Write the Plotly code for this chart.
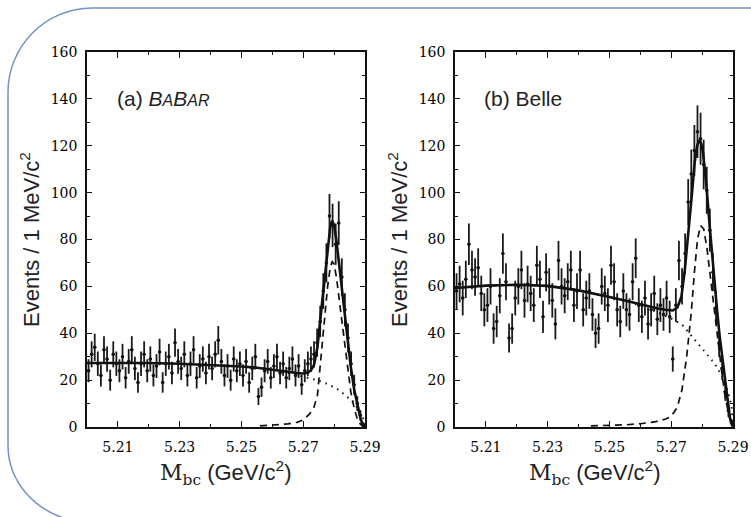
import numpy as np
import plotly.graph_objects as go

W, H = 751, 517

# ---------------- data ----------------
mbc_bins = [round(5.2005 + 0.001 * i, 4) for i in range(90)]

babar_counts = [24, 31, 34, 27, 22, 33, 29, 20, 31, 27,
                24, 30, 21, 28, 33, 25, 19, 27, 31, 24,
                29, 22, 26, 32, 19, 27, 30, 23, 36, 28,
                25, 31, 22, 27, 33, 21, 26, 29, 23, 30,
                25, 31, 37, 28, 22, 26, 20, 29, 24, 27,
                22, 28, 19, 25, 30, 13, 17, 24, 28, 21,
                26, 30, 23, 27, 21, 25, 29, 22, 26, 18,
                24, 27, 29, 31, 36, 45, 58, 70, 90, 86,
                78, 87, 64, 50, 38, 27, 18, 10, 5, 1]

belle_counts = [58, 61, 55, 63, 78, 67, 64, 68, 57, 50,
                52, 60, 42, 45, 56, 74, 62, 38, 42, 55,
                60, 67, 54, 61, 57, 52, 69, 63, 47, 66,
                60, 54, 44, 71, 60, 56, 62, 67, 52, 58,
                67, 50, 55, 58, 48, 40, 42, 60, 57, 52,
                69, 62, 50, 45, 58, 50, 48, 62, 72, 52,
                47, 55, 44, 50, 57, 46, 52, 48, 55, 47,
                29, 52, 71, 60, 74, 96, 108, 118, 126, 123,
                112, 101, 84, 66, 51, 36, 25, 15, 7, 2]

# fit curves
babar_fit_x = [5.200, 5.210, 5.220, 5.230, 5.240, 5.250, 5.255, 5.260, 5.265, 5.268,
               5.270, 5.2715, 5.2725, 5.2735, 5.2746, 5.2757, 5.2768, 5.2779, 5.2788, 5.2794,
               5.2800, 5.2808, 5.2816, 5.2825, 5.2833, 5.2843, 5.2854, 5.2865, 5.2876, 5.2885,
               5.2892, 5.2900]
babar_fit_y = [27.3, 27.4, 27.3, 27.0, 26.5, 25.8, 25.3, 24.6, 23.6, 23.0,
               22.8, 23.2, 24.2, 26.5, 34.0, 48.0, 62.5, 77.0, 86.0, 88.0,
               86.0, 79.0, 70.0, 59.0, 48.6, 37.0, 25.7, 16.0, 8.7, 4.0,
               1.0, 0.0]

babar_bkg_x = [5.200, 5.210, 5.220, 5.230, 5.240, 5.250, 5.255, 5.260, 5.265, 5.270,
               5.275, 5.278, 5.281, 5.284, 5.286, 5.2875, 5.2885, 5.2893, 5.2897, 5.290]
babar_bkg_y = [27.3, 27.4, 27.3, 27.0, 26.5, 25.8, 25.3, 24.6, 23.2, 21.5,
               19.8, 18.3, 16.2, 13.2, 10.7, 8.2, 6.2, 4.2, 2.8, 0.0]

babar_sig_x = [5.256, 5.260, 5.265, 5.268, 5.270, 5.272, 5.2735, 5.2746,
               5.2757, 5.2768, 5.2779, 5.2788, 5.2794, 5.2800, 5.2808, 5.2816, 5.2825, 5.2833,
               5.2843, 5.2854, 5.2865, 5.2876, 5.2885, 5.2892, 5.290]
babar_sig_y = [0.5, 0.8, 1.3, 2.0, 3.0, 5.5, 8.5, 13.5,
               28.0, 44.0, 60.0, 68.5, 70.5, 69.5, 63.5, 55.0, 45.0, 36.0,
               25.5, 15.0, 8.0, 3.0, 1.2, 0.4, 0.0]

belle_fit_x = [5.200, 5.210, 5.220, 5.230, 5.240, 5.245, 5.250, 5.255, 5.260, 5.265,
               5.268, 5.2705, 5.2720, 5.2733, 5.2744, 5.2755, 5.2766, 5.2776, 5.2784, 5.2790,
               5.2797, 5.2803, 5.2814, 5.2825, 5.2833, 5.2841, 5.2849, 5.2857, 5.2866, 5.2874,
               5.2882, 5.2890, 5.2900]
belle_fit_y = [59.3, 60.3, 60.7, 60.2, 58.3, 57.0, 55.5, 54.0, 52.3, 50.8,
               50.0, 49.7, 51.0, 55.6, 67.0, 81.0, 98.0, 113.0, 120.0, 122.4,
               121.0, 117.0, 103.0, 85.0, 72.0, 60.0, 49.0, 38.5, 28.5, 20.0,
               11.0, 4.0, 0.0]

belle_bkg_x = [5.200, 5.210, 5.220, 5.230, 5.240, 5.245, 5.250, 5.255, 5.260, 5.265,
               5.270, 5.2735, 5.2755, 5.278, 5.281, 5.284, 5.2865, 5.288, 5.289, 5.2895,
               5.290]
belle_bkg_y = [59.3, 60.3, 60.7, 60.2, 58.3, 57.0, 55.5, 53.8, 51.8, 49.3,
               46.3, 43.7, 40.6, 36.5, 32.0, 27.2, 21.5, 16.5, 12.0, 8.5,
               0.0]

belle_sig_x = [5.244, 5.250, 5.255, 5.260, 5.265, 5.268, 5.270,
               5.272, 5.2735, 5.275, 5.2765, 5.2775, 5.2785, 5.2795, 5.2805, 5.2815, 5.2825,
               5.2835, 5.2845, 5.2855, 5.2865, 5.2875, 5.2885, 5.2893, 5.290]
belle_sig_y = [0.5, 0.6, 0.9, 1.4, 2.3, 3.3, 4.5,
               8.5, 16.0, 30.0, 49.0, 66.0, 80.0, 86.0, 84.5, 77.0, 66.0,
               53.0, 43.0, 33.0, 22.0, 12.5, 5.5, 1.5, 0.0]

x_tickvals = [5.21, 5.23, 5.25, 5.27, 5.29]
y_tickvals = [0, 20, 40, 60, 80, 100, 120, 140, 160]

# ---------------- figure ----------------
fig = go.Figure()

def add_panel(xa, ya, counts, fx, fy, bx, by, sx, sy):
    err = np.sqrt(np.array(counts, dtype=float))
    fig.add_trace(go.Scatter(
        x=mbc_bins, y=counts, mode="markers", xaxis=xa, yaxis=ya,
        marker=dict(color="#111", size=3.5),
        error_y=dict(type="data", array=err, thickness=1.8, width=0, color="#1a1a1a"),
        error_x=dict(type="constant", value=0.0005, thickness=1.0, width=0, color="#1a1a1a"),
        showlegend=False, hoverinfo="skip"))
    fig.add_trace(go.Scatter(x=bx, y=by, mode="lines", xaxis=xa, yaxis=ya,
                             line=dict(color="#111", width=2, dash="1.5px,5px"),
                             showlegend=False, hoverinfo="skip"))
    fig.add_trace(go.Scatter(x=sx, y=sy, mode="lines", xaxis=xa, yaxis=ya,
                             line=dict(color="#111", width=1.7, dash="7px,5px"),
                             showlegend=False, hoverinfo="skip"))
    fig.add_trace(go.Scatter(x=fx, y=fy, mode="lines", xaxis=xa, yaxis=ya,
                             line=dict(color="#111", width=2.6),
                             showlegend=False, hoverinfo="skip"))

add_panel("x", "y", babar_counts, babar_fit_x, babar_fit_y,
          babar_bkg_x, babar_bkg_y, babar_sig_x, babar_sig_y)
add_panel("x2", "y2", belle_counts, belle_fit_x, belle_fit_y,
          belle_bkg_x, belle_bkg_y, belle_sig_x, belle_sig_y)

tickfont = dict(family="'DejaVu Serif', 'Liberation Serif', serif", size=14, color="#000")

def xax(domain, anchor):
    return dict(domain=domain, anchor=anchor, range=[5.2, 5.29], automargin=False,
                tickmode="array", tickvals=x_tickvals, ticktext=[f"{v:.2f}" for v in x_tickvals],
                ticks="inside", ticklen=6, tickwidth=1.3, tickcolor="#111",
                minor=dict(tickmode="linear", tick0=5.2, dtick=0.01, ticks="inside",
                           ticklen=3, tickwidth=1.3, tickcolor="#111"),
                showline=True, linewidth=1.6, linecolor="#111", mirror="allticks",
                showgrid=False, zeroline=False, tickfont=tickfont, ticklabelstandoff=6)

def yax(domain, anchor):
    return dict(domain=domain, anchor=anchor, range=[0, 160], automargin=False,
                tickmode="array", tickvals=y_tickvals,
                ticks="inside", ticklen=5, tickwidth=1.3, tickcolor="#111",
                minor=dict(tickmode="linear", tick0=0, dtick=10, ticks="inside",
                           ticklen=3, tickwidth=1.3, tickcolor="#111"),
                showline=True, linewidth=1.6, linecolor="#111", mirror="allticks",
                showgrid=False, zeroline=False, tickfont=tickfont, ticklabelstandoff=5)

ydom = [1 - 427 / H, 1 - 52 / H]
fig.update_layout(
    width=W, height=H, margin=dict(l=0, r=0, t=0, b=0, autoexpand=False),
    paper_bgcolor="white", plot_bgcolor="white",
    xaxis=xax([87 / W, 365 / W], "y"),
    yaxis=yax(ydom, "x"),
    xaxis2=xax([455 / W, 733 / W], "y2"),
    yaxis2=yax(ydom, "x2"),
)

def P(px, py):
    return f"{px / W:.5f},{1 - py / H:.5f}"

path = ("M " + P(751, 8) + " L " + P(92, 8) + " C " + P(46, 8) + " " + P(8, 46) + " " + P(8, 92)
        + " L " + P(8, 445) + " C " + P(8, 482) + " " + P(35, 512) + " " + P(74, 521))
fig.add_shape(type="path", path=path, xref="paper", yref="paper",
              line=dict(color="#7393c4", width=1.5), layer="below")

sans = "'Liberation Sans', Arial, sans-serif"
ytitle = "Events / 1 MeV/c<sup>2</sup>"
xtitle = "<span style=\"font-family:'DejaVu Serif'\">M<sub>bc</sub></span> (GeV/c<sup>2</sup>)"
for xpx in (30, 398):
    fig.add_annotation(x=xpx / W, y=1 - 240 / H, xref="paper", yref="paper",
                       xanchor="center", yanchor="middle",
                       text=ytitle, textangle=-90, showarrow=False,
                       font=dict(family=sans, size=22, color="#222"))
for xpx in (225, 594):
    fig.add_annotation(x=xpx / W, y=1 - 473 / H, xref="paper", yref="paper",
                       xanchor="center", yanchor="middle",
                       text=xtitle, showarrow=False,
                       font=dict(family=sans, size=22, color="#222"))

fig.add_annotation(x=115 / W, y=1 - 99 / H, xref="paper", yref="paper",
                   xanchor="left", yanchor="middle",
                   text="(a) <i>B<span style='font-size:16px'>A</span>B<span style='font-size:16px'>AR</span></i>",
                   showarrow=False, font=dict(family=sans, size=21, color="#222"))
fig.add_annotation(x=482 / W, y=1 - 99 / H, xref="paper", yref="paper",
                   xanchor="left", yanchor="middle",
                   text="(b) Belle", showarrow=False,
                   font=dict(family=sans, size=21, color="#222"))

fig.write_html("out.html")
